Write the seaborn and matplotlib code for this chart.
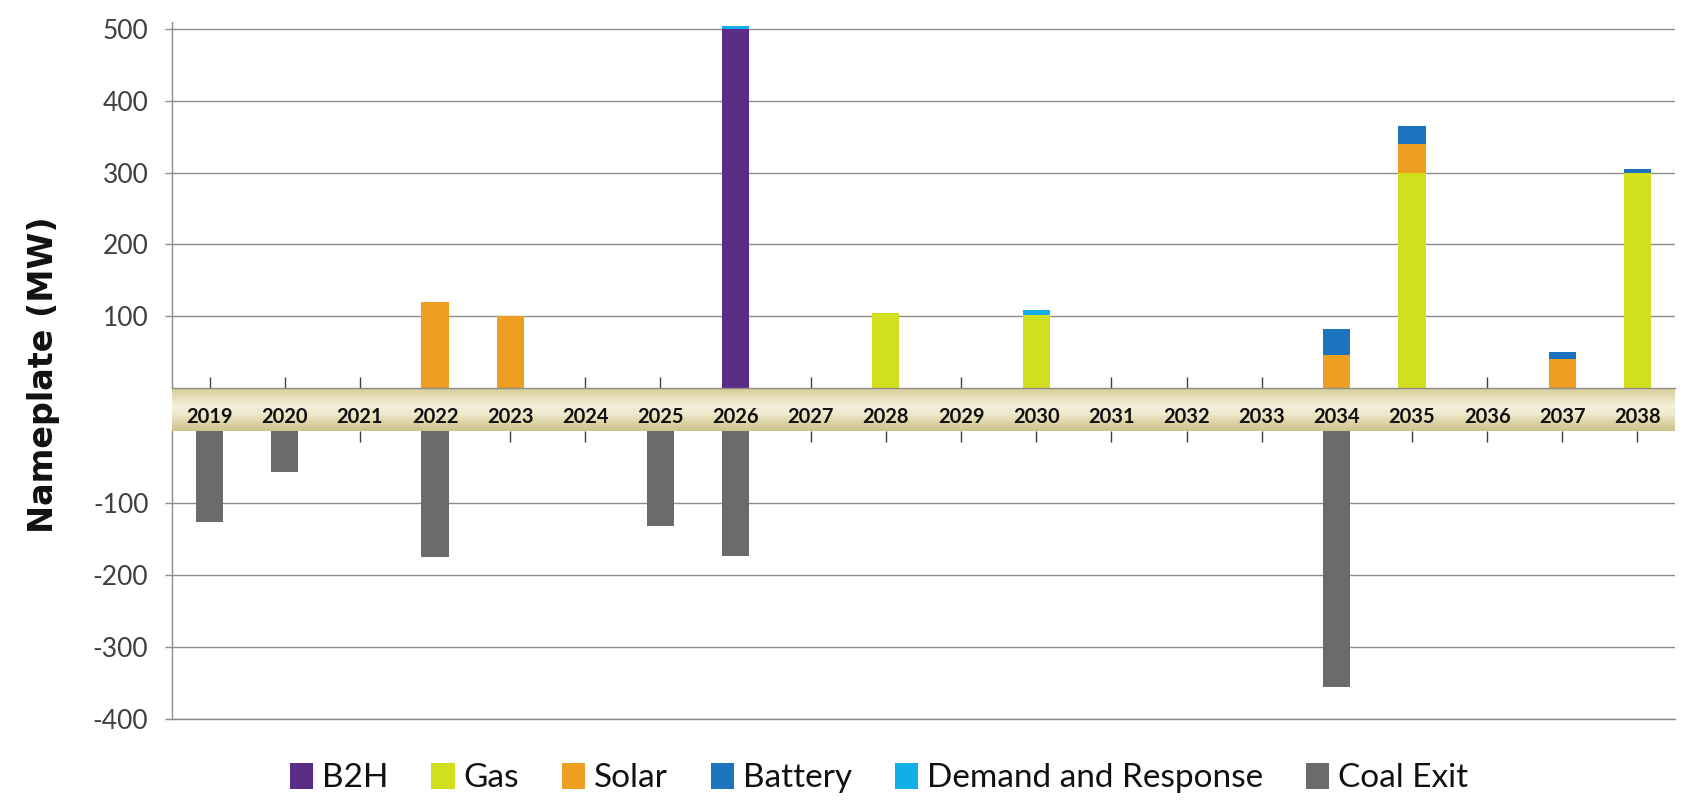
import numpy as np
import pandas as pd
import matplotlib
matplotlib.use("Agg")
import matplotlib.pyplot as plt
from matplotlib.patches import Patch
from matplotlib.colors import LinearSegmentedColormap
import seaborn as sns

# ---------------- data ----------------
years = [str(y) for y in range(2019, 2039)]
b2h     = [0, 0, 0, 0,   0,   0, 0,    500, 0, 0,   0, 0,   0, 0, 0, 0,    0,   0, 0,  0]
gas     = [0, 0, 0, 0,   0,   0, 0,    0,   0, 105, 0, 102, 0, 0, 0, 0,    300, 0, 0,  300]
solar   = [0, 0, 0, 120, 100, 0, 0,    0,   0, 0,   0, 0,   0, 0, 0, 46,   40,  0, 40, 0]
battery = [0, 0, 0, 0,   0,   0, 0,    0,   0, 0,   0, 0,   0, 0, 0, 36,   25,  0, 10, 5]
demand  = [0, 0, 0, 0,   0,   0, 0,    5,   0, 0,   0, 6,   0, 0, 0, 0,    0,   0, 0,  0]
coal    = [-127, -57, 0, -175, 0, 0, -132, -173, 0, 0, 0, 0, 0, 0, 0, -356, 0, 0, 0, 0]

series_names = ["B2H", "Gas", "Solar", "Battery", "Demand and Response", "Coal Exit"]
series_colors = ["#5B2C86", "#D2DF1F", "#EE9F22", "#1C74BE", "#12AEEA", "#6B6B6D"]

pos_ticks = [100, 200, 300, 400, 500]
pos_tick_labels = ["100", "200", "300", "400", "500"]
neg_ticks = [-400, -300, -200, -100]
neg_tick_labels = ["-400", "-300", "-200", "-100"]

# ---------------- style ----------------
sns.set_theme(style="white")
plt.rcParams['font.family'] = ['Lato', 'DejaVu Sans']

W, H = 1691, 808
fig = plt.figure(figsize=(W / 100, H / 100), dpi=100)
L, R = 172 / W, 1675 / W
def fy(p):
    return 1 - p / H

# band between positive and negative panels
band_ax = fig.add_axes([L, fy(431), R - L, fy(388) - fy(431)])
band_cmap = LinearSegmentedColormap.from_list(
    "band", ["#D6CC98", "#E6DFB6", "#F3EFD9", "#EFEACE", "#DDD3A5", "#CFC48E"])
grad = np.linspace(0, 1, 200).reshape(-1, 1)
band_ax.imshow(grad, aspect="auto", cmap=band_cmap, extent=[0, 1, 0, 1])
band_ax.axis("off")

ax_top = fig.add_axes([L, fy(388), R - L, fy(22) - fy(388)])
ax_bot = fig.add_axes([L, fy(719), R - L, fy(431) - fy(719)])

# ---------------- positive stacked bars ----------------
layers = [b2h, gas, solar, battery, demand]
cum = np.cumsum(np.array(layers, dtype=float), axis=0)
df_top = pd.DataFrame({"year": years})
for name, vals in zip(series_names[:5], cum):
    df_top[name] = vals

for name, col in reversed(list(zip(series_names[:5], series_colors[:5]))):
    sns.barplot(data=df_top, x="year", y=name, order=years, color=col,
                width=0.36, saturation=1, errorbar=None, linewidth=0, ax=ax_top)

# ---------------- negative bars ----------------
df_bot = pd.DataFrame({"year": years, "Coal Exit": coal})
sns.barplot(data=df_bot, x="year", y="Coal Exit", order=years, color=series_colors[5],
            width=0.36, saturation=1, errorbar=None, linewidth=0, ax=ax_bot)

grid_col = "#8c8c8c"
label_col = "#404040"

for ax in (ax_top, ax_bot):
    ax.set_facecolor("none")
    ax.set_xlabel("")
    ax.set_ylabel("")
    ax.set_xlim(-0.5, len(years) - 0.5)
    ax.set_axisbelow(True)
    ax.yaxis.grid(True, color=grid_col, linewidth=1.0)
    ax.xaxis.grid(False)
    for s in ("top", "right"):
        ax.spines[s].set_visible(False)
    ax.spines["left"].set_color(grid_col)
    ax.spines["left"].set_linewidth(1.0)
    ax.tick_params(axis="y", direction="out", length=5, width=1, color=grid_col,
                   pad=12, labelsize=19, labelcolor=label_col, left=True)

# top panel
ax_top.set_ylim(0, 510)
ax_top.set_yticks(pos_ticks, labels=pos_tick_labels, fontweight="normal", color=label_col)
ax_top.spines["bottom"].set_color(grid_col)
ax_top.spines["bottom"].set_linewidth(1.0)
ax_top.set_xticks(range(len(years)))
ax_top.tick_params(axis="x", direction="in", length=8, width=1, color="#3f3f3f",
                   bottom=True, labelbottom=False, top=False)

# bottom panel
ax_bot.set_ylim(-400, 0)
ax_bot.set_yticks(neg_ticks, labels=neg_tick_labels, fontweight="normal", color=label_col)
ax_bot.spines["bottom"].set_color(grid_col)
ax_bot.spines["bottom"].set_linewidth(1.0)
ax_bot.set_xticks(range(len(years)), labels=years, fontweight="bold", fontsize=14.5)
ax_bot.tick_params(axis="x", direction="in", length=8, width=1, color="#3f3f3f",
                   top=True, labeltop=True, bottom=False, labelbottom=False,
                   pad=3, labelcolor="#111111")

# y label
fig.text(44 / W, fy(375), "Nameplate (MW)", rotation=90, ha="center", va="center",
         fontsize=24, fontweight="bold", family=["DejaVu Sans"], color="#111111")

# legend
handles = [Patch(facecolor=c, edgecolor="none", label=n)
           for n, c in zip(series_names, series_colors)]
fig.legend(handles=handles, loc="center", bbox_to_anchor=(879 / W, fy(778)),
           ncol=6, frameon=False, fontsize=24, handlelength=0.7, handleheight=0.82,
           handletextpad=0.25, columnspacing=1.3, labelcolor="#111111")

fig.savefig("out.png", dpi=100)
